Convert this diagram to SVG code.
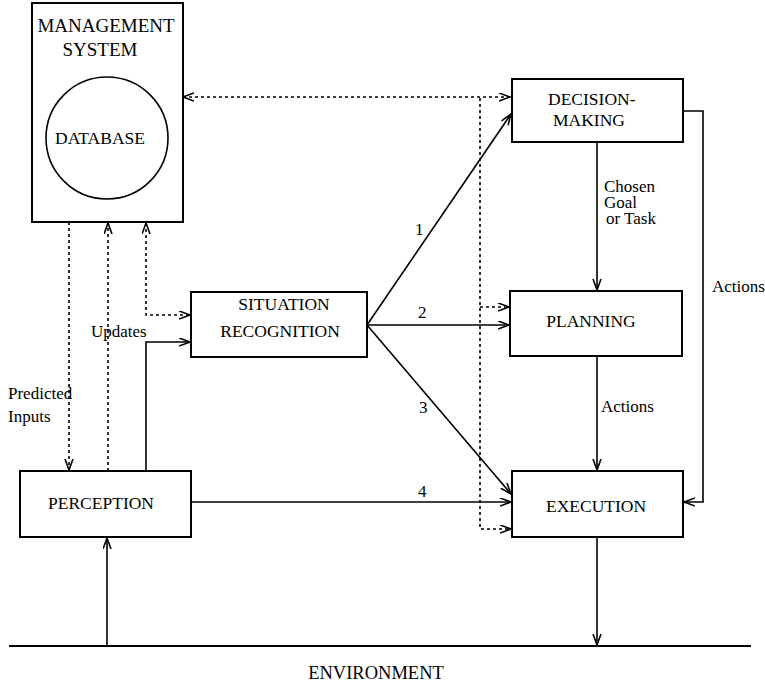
<svg xmlns="http://www.w3.org/2000/svg" width="765" height="682" viewBox="0 0 765 682">
<style>
  .box{fill:#fff;stroke:#000;stroke-width:2}
  .t{font-family:"Liberation Serif","Times New Roman",serif;font-size:17.5px;fill:#000}
  .lb{font-family:"Liberation Serif","Times New Roman",serif;font-size:17px;fill:#000}
  .s{fill:none;stroke:#000;stroke-width:1.6}
  .d{fill:none;stroke:#000;stroke-width:1.6;stroke-dasharray:3 3}
</style>
<defs>
  <marker id="ah" markerUnits="userSpaceOnUse" markerWidth="12" markerHeight="10" refX="11" refY="4.5" orient="auto-start-reverse" viewBox="0 0 12 10">
    <path d="M0,0.5 L11,4.5 L0,8.5" fill="none" stroke="#000" stroke-width="1.6"/>
  </marker>
</defs>
<rect width="765" height="682" fill="#fff"/>
<g id="connectors">
  <!-- mgmt <-> decision dotted -->
  <path class="d" d="M183,97 L510,97" marker-start="url(#ah)" marker-end="url(#ah)"/>
  <path class="d" d="M480,98 L480,529 L511,529" marker-end="url(#ah)"/>
  <path class="d" d="M480,307 L509,307" marker-end="url(#ah)"/>
  <!-- mgmt to perception dotted -->
  <path class="d" d="M69,222 L69,470" marker-end="url(#ah)"/>
  <path class="d" d="M108,471 L108,223" marker-end="url(#ah)"/>
  <path class="d" d="M146,223 L146,315 L190,315" marker-start="url(#ah)" marker-end="url(#ah)"/>
  <!-- perception to situation -->
  <path class="s" d="M146,471 L146,342 L190,342" marker-end="url(#ah)"/>
  <!-- situation outputs -->
  <path class="s" d="M367,325 L511,114" marker-end="url(#ah)"/>
  <path class="s" d="M367,325 L509,325" marker-end="url(#ah)"/>
  <path class="s" d="M367,325 L511,494" marker-end="url(#ah)"/>
  <path class="s" d="M191,502 L511,502" marker-end="url(#ah)"/>
  <!-- decision to planning, planning to execution -->
  <path class="s" d="M597,142 L597,290" marker-end="url(#ah)"/>
  <path class="s" d="M597,356 L597,470" marker-end="url(#ah)"/>
  <path class="s" d="M683,111 L703,111 L703,502 L684,502" marker-end="url(#ah)"/>
  <!-- execution to environment, environment to perception -->
  <path class="s" d="M597,537 L597,645" marker-end="url(#ah)"/>
  <path class="s" d="M107,646 L107,538" marker-end="url(#ah)"/>
  <!-- environment line -->
  <line x1="9" y1="646" x2="751" y2="646" stroke="#000" stroke-width="2"/>
  <!-- labels -->
  <text class="lb" x="604" y="192">Chosen</text>
  <text class="lb" x="604" y="208">Goal</text>
  <text class="lb" x="606" y="224">or Task</text>
  <text class="lb" x="601" y="412">Actions</text>
  <text class="lb" x="712" y="292">Actions</text>
  <text class="lb" x="91" y="337">Updates</text>
  <text class="lb" x="8" y="399">Predicted</text>
  <text class="lb" x="8" y="422">Inputs</text>
  <text class="lb" x="415" y="235">1</text>
  <text class="lb" x="418" y="318">2</text>
  <text class="lb" x="419" y="413">3</text>
  <text class="lb" x="418" y="497">4</text>
</g>
<g id="management">
  <rect class="box" x="32" y="3" width="151" height="219"/>
  <text class="t" style="font-size:19px" x="106" y="32" text-anchor="middle">MANAGEMENT</text>
  <text class="t" style="font-size:19px" x="100" y="56" text-anchor="middle">SYSTEM</text>
</g>
<g id="database">
  <circle cx="107" cy="138" r="61" fill="#fff" stroke="#000" stroke-width="1.6"/>
  <text class="t" x="100" y="144" text-anchor="middle">DATABASE</text>
</g>
<g id="decision">
  <rect class="box" x="512" y="79" width="171" height="63"/>
  <text class="t" x="548" y="105">DECISION-</text>
  <text class="t" x="553" y="126">MAKING</text>
</g>
<g id="situation">
  <rect class="box" x="191" y="292" width="176" height="65"/>
  <text class="t" x="284" y="310" text-anchor="middle">SITUATION</text>
  <text class="t" x="280" y="337" text-anchor="middle">RECOGNITION</text>
</g>
<g id="planning">
  <rect class="box" x="510" y="291" width="172" height="65"/>
  <text class="t" x="591" y="327" text-anchor="middle">PLANNING</text>
</g>
<g id="execution">
  <rect class="box" x="512" y="471" width="171" height="66"/>
  <text class="t" x="596" y="512" text-anchor="middle">EXECUTION</text>
</g>
<g id="perception">
  <rect class="box" x="20" y="471" width="171" height="66"/>
  <text class="t" x="101" y="509" text-anchor="middle">PERCEPTION</text>
</g>
<g id="environment">
  <text class="t" style="font-size:18.5px" x="376" y="679" text-anchor="middle">ENVIRONMENT</text>
</g>
</svg>
